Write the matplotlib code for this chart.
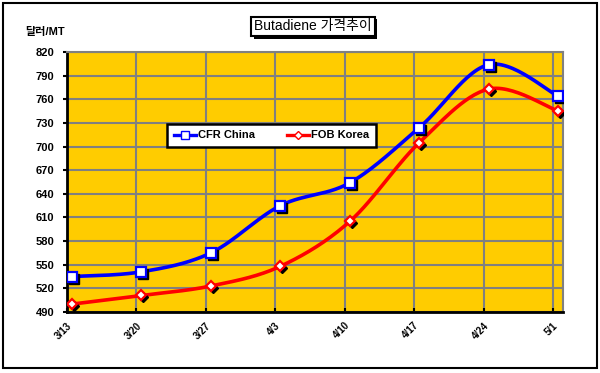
import numpy as np
import matplotlib
matplotlib.use("Agg")
import matplotlib.pyplot as plt
import matplotlib.transforms as mtransforms
import matplotlib.patheffects as pe
from matplotlib.patches import Rectangle

plt.rcParams['font.family'] = ['Liberation Sans', 'Noto Sans CJK KR', 'DejaVu Sans']

# data
dates = ["3/13", "3/20", "3/27", "4/3", "4/10", "4/17", "4/24", "5/1"]
cfr_china = [535, 541, 565, 625, 654, 724, 804, 764]
fob_korea = [500, 511, 523, 548, 605, 705, 773, 745]
y_ticks = list(range(490, 821, 30))

# points sit a little right of the weekly gridlines
x_pts = np.arange(len(dates)) + 0.075


def smooth(x, y, n=30):
    # Excel-like smoothed line (Catmull-Rom as cubic Bezier)
    p = np.column_stack([x, y]).astype(float)
    ext = np.vstack([p[0], p, p[-1]])
    out = []
    t = np.linspace(0, 1, n)[:, None]
    for i in range(1, len(ext) - 2):
        p0, p1, p2, p3 = ext[i - 1], ext[i], ext[i + 1], ext[i + 2]
        c1 = p1 + (p2 - p0) / 6
        c2 = p2 - (p3 - p1) / 6
        seg = ((1 - t) ** 3) * p1 + 3 * ((1 - t) ** 2) * t * c1 + 3 * (1 - t) * t ** 2 * c2 + t ** 3 * p2
        out.append(seg)
    out = np.vstack(out)
    return out[:, 0], out[:, 1]


fig = plt.figure(figsize=(6, 3.73), dpi=100)
ax = fig.add_axes([0.111, 0.1635, 0.827, 0.697])
ax.set_facecolor("#FFCC00")

# outer frame
fig.patches.append(Rectangle((0.005, 0.013), 0.99, 0.98, transform=fig.transFigure,
                             fill=False, edgecolor="black", linewidth=1.5))

shadow = mtransforms.offset_copy(ax.transData, fig=fig, x=2, y=-2, units="dots")

series = [
    (cfr_china, "blue", "s", 6.5, "CFR China"),
    (fob_korea, "red", "D", 5, "FOB Korea"),
]
for vals, color, marker, ms, label in series:
    sx, sy = smooth(x_pts, vals)
    ax.plot(sx, sy, color=color, linewidth=2.6, zorder=3, solid_capstyle="round")
    ax.plot(x_pts, vals, linestyle="none", marker=marker, markersize=ms,
            markerfacecolor="black", markeredgecolor="black", transform=shadow, zorder=4)
    ax.plot(x_pts, vals, linestyle="none", marker=marker, markersize=ms,
            markerfacecolor="white", markeredgecolor=color, markeredgewidth=1.6, zorder=5)
    ax.plot([], [], color=color, linewidth=2.4, marker=marker, markersize=ms - 1,
            markerfacecolor="white", markeredgecolor=color, label=label)

ax.set_xlim(0, 7.14)
ax.set_ylim(490, 820)
ax.set_yticks(y_ticks)
ax.set_yticklabels([str(v) for v in y_ticks], fontsize=8, fontweight="bold")
ax.set_xticks(range(len(dates)))
ax.set_xticklabels(dates, fontsize=7, fontweight="bold", rotation=45,
                   ha="right", va="top", rotation_mode="anchor")
ax.tick_params(axis="x", direction="in", length=3, width=1.5, pad=6)
ax.tick_params(axis="y", direction="out", length=3, width=1.5, pad=6)

ax.grid(True, color="#808080", linewidth=1.5)
ax.set_axisbelow(True)
for side in ("top", "right"):
    ax.spines[side].set_color("#808080")
    ax.spines[side].set_linewidth(1.5)
for side in ("left", "bottom"):
    ax.spines[side].set_color("black")
    ax.spines[side].set_linewidth(2)

leg = ax.legend(loc="center", bbox_to_anchor=(0.413, 0.679), ncol=2,
                prop={"weight": "bold", "size": 8}, frameon=True, fancybox=False,
                edgecolor="black", handlelength=2.0, columnspacing=2.8,
                borderpad=0.6, handletextpad=0.2, borderaxespad=0)
leg.get_frame().set_linewidth(1.8)
leg.get_frame().set_facecolor("white")
leg.get_frame().set_alpha(1)

# title box with drop shadow
title = fig.text(0.5217, 0.929, "Butadiene 가격추이", fontsize=10, ha="center", va="center",
                 bbox=dict(boxstyle="square,pad=0.2", facecolor="white", edgecolor="black", linewidth=1.5))
title.get_bbox_patch().set_path_effects([
    pe.SimplePatchShadow(offset=(2, -2), shadow_rgbFace="black", alpha=1), pe.Normal()])

fig.text(0.042, 0.914, "달러/MT", fontsize=8, fontweight="bold", ha="left", va="center")

fig.savefig("out.png", dpi=100)
